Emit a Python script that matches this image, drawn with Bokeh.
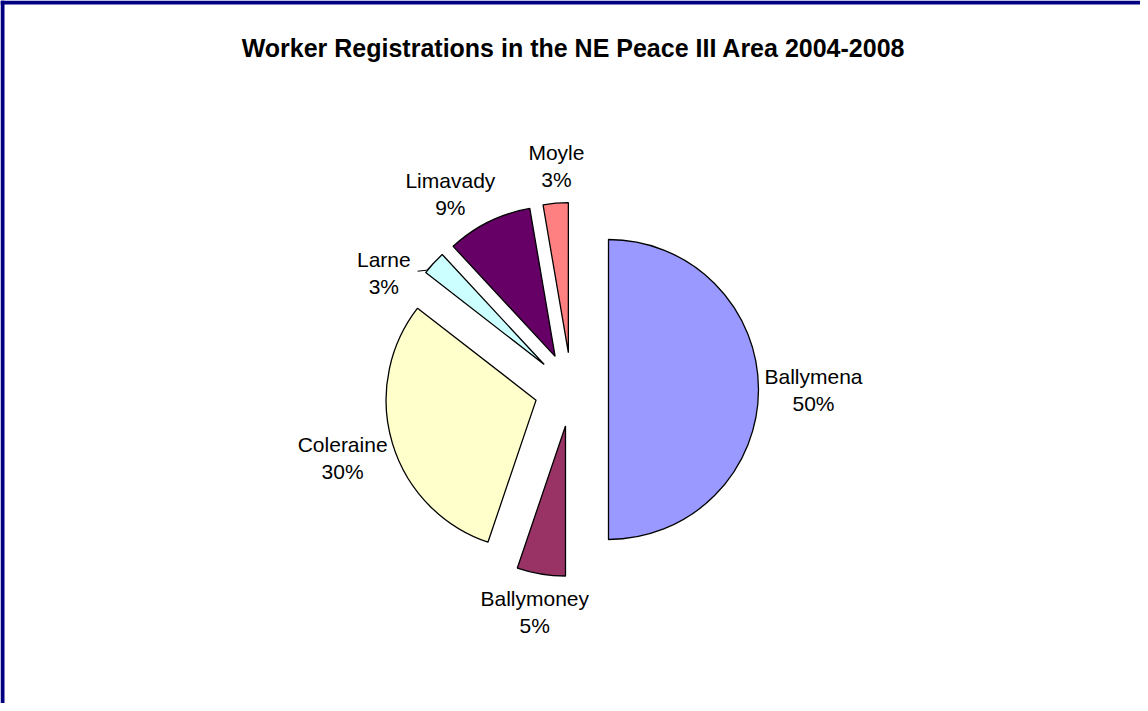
import math
from bokeh.plotting import figure
from bokeh.models import Range1d, ColumnDataSource
from bokeh.core.properties import value
from bokeh.embed import file_html
from bokeh.resources import INLINE

# ---- data ----
title_text = "Worker Registrations in the NE Peace III Area 2004-2008"
categories = ["Ballymena", "Ballymoney", "Coleraine", "Larne", "Limavady", "Moyle"]
shares = [50.0, 5.2, 30.3, 2.6, 9.2, 2.7]
pct_labels = ["50%", "5%", "30%", "3%", "9%", "3%"]

# ---- style / layout ----
colors = ["#9999FF", "#993366", "#FFFFCC", "#CCFFFF", "#660066", "#FF8080"]
label_radius = [242, 226, 239, 221, 230, 224]
label_angle_shift = [0, 0, 0, -10.6, -5.5, 1.0]
W, H, PAGE = 1140, 703, 8
CX, CY = 579, 397          # pie centre in page pixels
R, EXPLODE = 150, 37
FONT = "Liberation Sans"
LINE_GAP = 27


def Y(py):
    return (H + PAGE) - py


p = figure(width=W, height=H, x_range=Range1d(PAGE, PAGE + W), y_range=Range1d(0, H),
           output_backend="svg", toolbar_location=None, min_border=0,
           x_axis_type=None, y_axis_type=None)
p.grid.visible = False
p.outline_line_color = None
p.background_fill_color = "white"
p.border_fill_color = "white"

total = sum(shares)
xs, ys, starts, ends, mids = [], [], [], [], []
acc = 0.0
for s in shares:
    t0 = acc / total * 360.0
    acc += s
    t1 = acc / total * 360.0
    tm = (t0 + t1) / 2
    mids.append(tm)
    xs.append(CX + EXPLODE * math.sin(math.radians(tm)))
    ys.append(Y(CY) + EXPLODE * math.cos(math.radians(tm)))
    starts.append(math.radians(90 - t0))
    ends.append(math.radians(90 - t1))

src = ColumnDataSource(dict(x=xs, y=ys, start=starts, end=ends, color=colors, name=categories))
p.wedge(x="x", y="y", radius=R, start_angle="start", end_angle="end", direction="clock",
        fill_color="color", line_color="black", line_width=1.3, source=src)

# labels
lx, ly1, ly2 = [], [], []
for i, tm in enumerate(mids):
    a = math.radians(tm + label_angle_shift[i])
    x = CX + label_radius[i] * math.sin(a)
    y = Y(CY) + label_radius[i] * math.cos(a)
    lx.append(x)
    ly1.append(y + LINE_GAP / 2)
    ly2.append(y - LINE_GAP / 2)

p.text(x=lx, y=ly1, text=categories, text_align="center", text_baseline="middle",
       text_font=value(FONT), text_font_size="21px", text_color="black")
p.text(x=lx, y=ly2, text=pct_labels, text_align="center", text_baseline="middle",
       text_font=value(FONT), text_font_size="21px", text_color="black")

# leader line for Larne
i = categories.index("Larne")
a = math.radians(mids[i])
ax = xs[i] + R * math.sin(a)
ay = ys[i] + R * math.cos(a)
p.line(x=[ax, ax - 7, ax - 16], y=[ay, ay - 7, ay - 8], line_color="black", line_width=1)

# title
p.text(x=[CX + 2], y=[Y(55)], text=[title_text], text_align="center", text_baseline="middle",
       text_font=value(FONT), text_font_size="25px", text_font_style="bold", text_color="black")

# frame border (left & top visible in the reference)
p.quad(left=[PAGE, PAGE], right=[PAGE + 4, PAGE + W], bottom=[0, Y(12)], top=[H, H],
       fill_color="#000080", line_color=None)

open("out.html", "w").write(file_html(p, INLINE))
